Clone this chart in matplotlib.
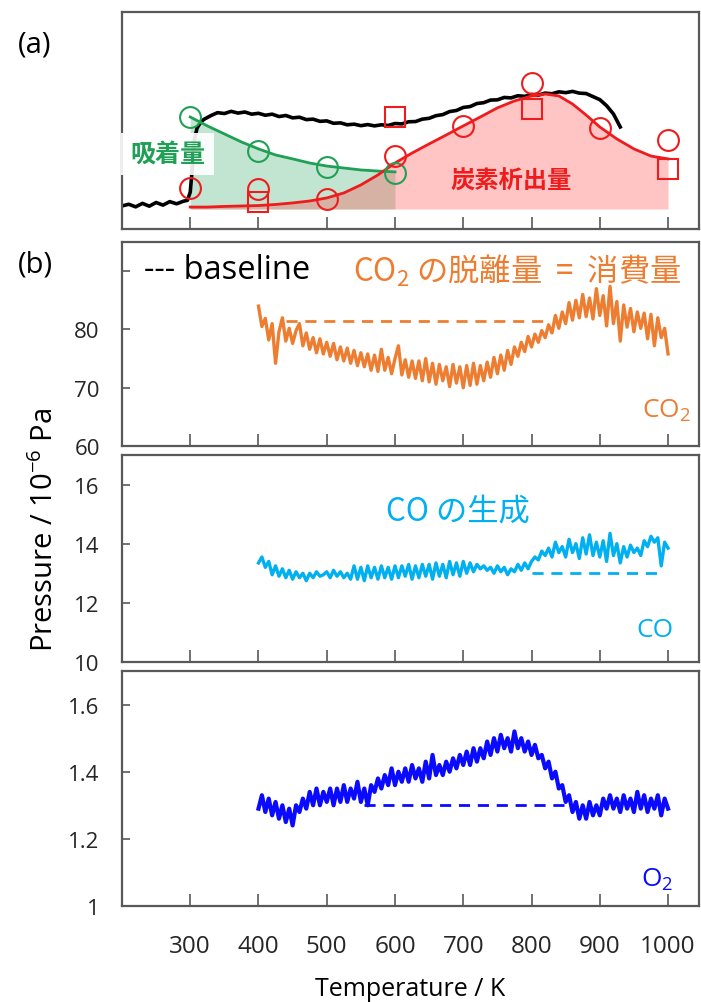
import matplotlib.pyplot as plt
import numpy as np

plt.rcParams['font.family'] = ['Open Sans', 'Noto Sans CJK JP', 'DejaVu Sans']
plt.rcParams['mathtext.default'] = 'regular'

# ---- (a) 上段：任意単位 ----
black_T = [200, 210, 220, 230, 240, 250, 260, 270, 280, 290, 296, 300, 303, 306, 310, 315,
           320, 330, 340, 350, 360, 370, 380, 390, 400, 410, 420, 430, 440, 450, 460, 470,
           480, 490, 500, 510, 520, 530, 540, 550, 560, 570, 580, 590, 600, 610, 620, 630,
           640, 650, 660, 670, 680, 690, 700, 710, 720, 730, 740, 750, 760, 770, 780, 790,
           800, 810, 820, 830, 840, 850, 860, 870, 880, 890, 900, 910, 920, 930]
black_v = [10.6, 11.4, 10.2, 11.8, 10.5, 12.2, 11.0, 12.6, 11.6, 12.8, 13.2, 17.0, 28.0, 41.0, 46.5, 49.0,
           50.5, 52.2, 53.6, 53.2, 54.2, 53.4, 53.9, 52.9, 53.3, 52.4, 52.9, 51.8, 52.3, 51.2, 51.5, 50.4,
           50.6, 49.6, 49.8, 48.7, 48.9, 48.0, 48.3, 47.6, 48.1, 47.5, 48.0, 47.7, 48.6, 48.4, 49.4, 49.5,
           50.6, 51.0, 52.2, 52.7, 54.1, 54.6, 56.0, 56.4, 57.8, 58.2, 59.4, 59.5, 60.6, 60.4, 61.4, 61.1,
           62.0, 61.7, 62.6, 62.3, 63.2, 62.8, 63.4, 62.6, 62.4, 61.0, 59.6, 56.8, 53.0, 47.0]

green_T = [300, 325, 350, 375, 400, 425, 450, 475, 500, 525, 550, 575, 600]
green_v = [51.6, 47.5, 43.8, 40.1, 36.9, 34.1, 32.3, 30.4, 29.0, 28.1, 27.2, 26.7, 26.3]
green_pts_T = [300, 400, 500, 600]
green_pts_v = [51.6, 35.9, 28.6, 25.8]

red_T = [300, 325, 350, 375, 400, 425, 450, 475, 500, 525, 550, 575, 600, 625, 650, 675,
         700, 725, 750, 775, 800, 820, 840, 860, 880, 900, 925, 950, 975, 1000]
red_v = [10.1, 10.1, 10.4, 10.6, 10.8, 11.3, 12.0, 12.9, 14.3, 16.6, 20.3, 24.9, 30.4, 35.0, 39.2, 43.3,
         47.5, 51.6, 55.8, 59.0, 61.3, 62.2, 61.3, 57.6, 52.5, 47.0, 41.5, 36.9, 33.6, 32.3]
red_circ_T = [300, 400, 500, 600, 700, 800, 900, 1000]
red_circ_v = [18.9, 18.4, 13.8, 33.6, 47.5, 67.3, 46.5, 41.0]
red_sq_T = [400, 600, 800, 1000]
red_sq_v = [12.4, 51.6, 55.3, 27.6]
fill_base = 9.2

# ---- (b) 下段：圧力 ----
T_gas = np.arange(400, 1001, 5)
co2 = [84.0, 80.5, 81.9, 78.2, 81.0, 74.2, 79.6, 82.0, 78.0, 80.2, 77.6, 79.8, 81.0, 77.2, 79.4, 76.6,
       78.6, 76.0, 78.4, 75.8, 77.8, 75.4, 77.6, 74.8, 77.0, 74.6, 76.8, 74.2, 76.4, 73.8, 76.0, 73.6,
       75.8, 73.0, 75.6, 72.8, 76.6, 73.0, 75.2, 72.4, 75.0, 77.2, 72.2, 74.8, 71.8, 74.6, 71.6, 74.6,
       71.2, 75.0, 71.0, 74.2, 70.6, 74.0, 71.2, 73.6, 70.2, 74.0, 70.8, 73.6, 70.0, 73.8, 70.4, 74.2,
       70.6, 73.8, 71.2, 74.4, 71.8, 75.2, 72.4, 75.6, 73.0, 76.4, 74.0, 77.0, 75.4, 77.8, 76.2, 78.8,
       77.0, 79.2, 77.8, 79.8, 78.6, 80.8, 79.4, 82.4, 80.2, 83.0, 81.0, 84.6, 81.6, 85.0, 82.0, 86.0,
       82.2, 85.4, 81.8, 87.0, 82.4, 85.8, 80.6, 87.4, 81.0, 84.8, 78.0, 84.2, 80.4, 83.6, 79.6, 83.0,
       80.2, 82.8, 78.4, 82.6, 77.2, 82.0, 78.6, 80.2, 75.8]
co = [13.35, 13.55, 13.20, 13.40, 12.95, 13.25, 12.90, 13.15, 12.85, 13.10, 12.80, 13.05, 12.85, 13.00,
      12.75, 13.00, 12.85, 13.05, 12.90, 12.95, 13.05, 12.85, 13.10, 12.90, 13.05, 12.85, 13.00, 12.80,
      13.25, 12.80, 13.20, 12.75, 13.25, 12.85, 13.20, 12.80, 13.25, 12.85, 13.20, 12.80, 13.25, 12.85,
      13.25, 12.90, 13.30, 12.80, 13.25, 12.85, 13.30, 12.90, 13.30, 12.80, 13.35, 12.90, 13.30, 12.85,
      13.40, 12.95, 13.35, 12.90, 13.40, 13.00, 13.35, 13.05, 13.30, 13.15, 13.25, 13.10, 13.20, 13.00,
      13.25, 13.05, 13.20, 12.95, 13.15, 13.05, 13.30, 13.10, 13.35, 13.15, 13.40, 13.55, 13.45, 13.75,
      13.60, 13.85, 13.55, 14.05, 13.70, 13.90, 13.55, 14.15, 13.70, 14.00, 13.50, 14.20, 13.65, 14.30,
      13.60, 14.05, 13.55, 14.10, 13.40, 14.35, 13.60, 14.00, 13.35, 13.90, 13.55, 13.95, 13.70, 13.85,
      13.60, 14.10, 13.90, 14.25, 14.05, 14.20, 13.25, 14.05, 13.85]
o2 = [1.29, 1.33, 1.28, 1.32, 1.27, 1.31, 1.26, 1.30, 1.25, 1.29, 1.24, 1.30, 1.28, 1.32, 1.29, 1.34,
      1.30, 1.35, 1.30, 1.34, 1.31, 1.35, 1.30, 1.35, 1.31, 1.36, 1.31, 1.35, 1.32, 1.37, 1.31, 1.35,
      1.30, 1.36, 1.34, 1.38, 1.35, 1.39, 1.36, 1.41, 1.36, 1.40, 1.37, 1.41, 1.37, 1.42, 1.38, 1.41,
      1.37, 1.43, 1.38, 1.45, 1.39, 1.42, 1.39, 1.43, 1.40, 1.44, 1.41, 1.45, 1.42, 1.46, 1.42, 1.47,
      1.43, 1.47, 1.44, 1.49, 1.45, 1.50, 1.46, 1.51, 1.47, 1.50, 1.46, 1.52, 1.47, 1.50, 1.46, 1.49,
      1.45, 1.48, 1.44, 1.45, 1.41, 1.43, 1.38, 1.40, 1.35, 1.36, 1.31, 1.33, 1.28, 1.31, 1.26, 1.30,
      1.26, 1.31, 1.27, 1.30, 1.27, 1.32, 1.29, 1.33, 1.29, 1.32, 1.28, 1.33, 1.29, 1.32, 1.28, 1.34,
      1.29, 1.33, 1.28, 1.32, 1.29, 1.33, 1.27, 1.32, 1.29]

co2_base_T, co2_base = [440, 820], 81.5
co_base_T, co_base = [800, 990], 13.0
o2_base_T, o2_base = [555, 850], 1.30

tick_T = [300, 400, 500, 600, 700, 800, 900, 1000]

c_orange = '#ed7d31'
c_sky = '#00b0f0'
c_blue = '#0a0aff'
c_green = '#1fa055'
c_red = '#ee1c1c'
c_spine = '#595959'
jp = 'Noto Sans CJK JP'

fig = plt.figure(figsize=(7.01, 10.03), dpi=100)
ax_a = fig.add_axes([0.174, 0.7707, 0.8228, 0.2164])
ax_co2 = fig.add_axes([0.174, 0.5543, 0.8228, 0.2034])
ax_co = fig.add_axes([0.174, 0.3390, 0.8228, 0.2064])
ax_o2 = fig.add_axes([0.174, 0.0957, 0.8228, 0.2343])


def style_axis(ax):
    for s in ax.spines.values():
        s.set_color(c_spine)
        s.set_linewidth(1.6)
    ax.set_xlim(200, 1045)
    ax.set_xticks(tick_T)
    ax.tick_params(axis='x', direction='in', length=9, width=1.2, color=c_spine,
                   labelbottom=False)
    ax.tick_params(axis='y', direction='in', length=5.5, width=1.2, color=c_spine,
                   labelsize=16, pad=16, labelcolor='#262626')


for ax in [ax_a, ax_co2, ax_co, ax_o2]:
    style_axis(ax)

# (a)
ax_a.set_ylim(0, 100)
ax_a.set_yticks([])
ax_a.fill_between(green_T, fill_base, green_v, color=c_green, alpha=0.27, lw=0)
ax_a.fill_between(red_T, fill_base, red_v, color='#ff4d4d', alpha=0.33, lw=0)
ax_a.plot(black_T, black_v, color='black', lw=2.6)
ax_a.plot(green_T, green_v, color=c_green, lw=2)
ax_a.plot(red_T, red_v, color=c_red, lw=2)
ax_a.plot(green_pts_T, green_pts_v, 'o', ms=15, mfc='none', mec=c_green, mew=1.5)
ax_a.plot(red_circ_T, red_circ_v, 'o', ms=15, mfc='none', mec=c_red, mew=1.5)
ax_a.plot(red_sq_T, red_sq_v, 's', ms=14, mfc='none', mec=c_red, mew=1.5)
ax_a.text(267, 34.6, '吸着量', color=c_green, fontsize=18, fontweight='bold', family=jp,
          ha='center', va='center',
          bbox=dict(boxstyle='square,pad=0.35', facecolor='white', edgecolor='none', alpha=0.9))
ax_a.text(770, 22.1, '炭素析出量', color=c_red, fontsize=17.5, fontweight='bold', family=jp,
          ha='center', va='center')

# (b) CO2
ax_co2.set_ylim(60, 95)
ax_co2.set_yticks([60, 70, 80, 90])
ax_co2.set_yticklabels(['60', '70', '80', ''])
ax_co2.plot(T_gas, co2, color=c_orange, lw=2.4)
ax_co2.plot(co2_base_T, [co2_base, co2_base], color=c_orange, lw=2, dashes=(4, 2.8))
ax_co2.text(232, 90.3, '--- baseline', color='black', fontsize=23.5, ha='left', va='center')
ax_co2.text(1020, 90.3, 'CO$_2$ の脱離量  =  消費量', color=c_orange, fontsize=22.5, family=jp,
            ha='right', va='center')
ax_co2.text(1034, 66.2, 'CO$_2$', color=c_orange, fontsize=19, ha='right', va='center')

# CO
ax_co.set_ylim(10, 17)
ax_co.set_yticks([10, 12, 14, 16])
ax_co.plot(T_gas, co, color=c_sky, lw=2.4)
ax_co.plot(co_base_T, [co_base, co_base], color=c_sky, lw=2, dashes=(4, 2.8))
ax_co.text(692, 15.13, 'CO の生成', color=c_sky, fontsize=22.5, family=jp, ha='center', va='center')
ax_co.text(1008, 11.1, 'CO', color=c_sky, fontsize=19, ha='right', va='center')

# O2
ax_o2.set_ylim(1, 1.7)
ax_o2.set_yticks([1, 1.2, 1.4, 1.6])
ax_o2.set_yticklabels(['1', '1.2', '1.4', '1.6'])
ax_o2.plot(T_gas, o2, color=c_blue, lw=3)
ax_o2.plot(o2_base_T, [o2_base, o2_base], color=c_blue, lw=2, dashes=(4, 2.8))
ax_o2.text(1008, 1.08, 'O$_2$', color=c_blue, fontsize=19, ha='right', va='center')
ax_o2.tick_params(axis='x', labelbottom=True, labelsize=17.5, pad=20, labelcolor='#262626')

fig.text(0.05, 0.955, '(a)', fontsize=21, ha='center', va='center')
fig.text(0.05, 0.736, '(b)', fontsize=21, ha='center', va='center')
fig.text(0.064, 0.4716, 'Pressure / 10$^{-6}$ Pa', fontsize=21, rotation=90,
         ha='center', va='center')
fig.text(0.585, 0.013, 'Temperature / K', fontsize=18, ha='center', va='center')

fig.savefig('out.png', dpi=100)
